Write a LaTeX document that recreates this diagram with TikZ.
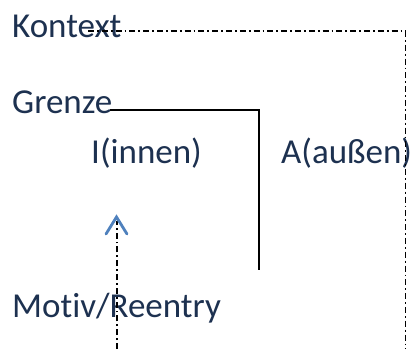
\documentclass[tikz,border=0pt]{standalone}
\usepackage{fontspec}
\setmainfont[Ligatures={NoCommon}]{Carlito}
\usetikzlibrary{arrows.meta}
\definecolor{txt}{HTML}{1D3150}
\definecolor{arr}{HTML}{4F81BD}
\tikzset{
  lbl/.style={anchor=base west, inner sep=0pt, text=txt, font=\fontsize{35}{38}\selectfont},
  ctx/.style={black, line width=1.8pt, dash pattern=on 6pt off 3pt on 1.8pt off 3pt},
  bound/.style={black, line width=1.3pt},
}
\begin{document}
\begin{tikzpicture}[x=1pt,y=-1pt]
\useasboundingbox (0,0) rectangle (411,349);
\node[lbl] (kontext) at (12,37) {Kontext};
\node[lbl] (grenze) at (12,113) {Grenze};
\node[lbl] (innen) at (91,163) {I(innen)};
\node[lbl] (aussen) at (281,163) {A(außen)};
\node[lbl] (motiv) at (12,317) {Motiv/Reentry};
\coordinate (k0) at (88,31);
\coordinate (k1) at (405.5,31);
\coordinate (k2) at (405.5,349);
\coordinate (g0) at (110,110);
\coordinate (g1) at (259,110);
\coordinate (g2) at (259,270);
\coordinate (m0) at (117,349);
\coordinate (m1) at (117,221);
\coordinate (tip) at (116.5,217);
\draw[ctx] (k0) -- (k1) -- (k2);
\draw[bound] (g0) -- (g1) -- (g2);
\draw[ctx, line width=1.4pt] (m0) -- (m1);
\draw[arr, line width=2.8pt, line cap=round, line join=miter] (106,234) -- (tip) -- (127,234);
\end{tikzpicture}
\end{document}
